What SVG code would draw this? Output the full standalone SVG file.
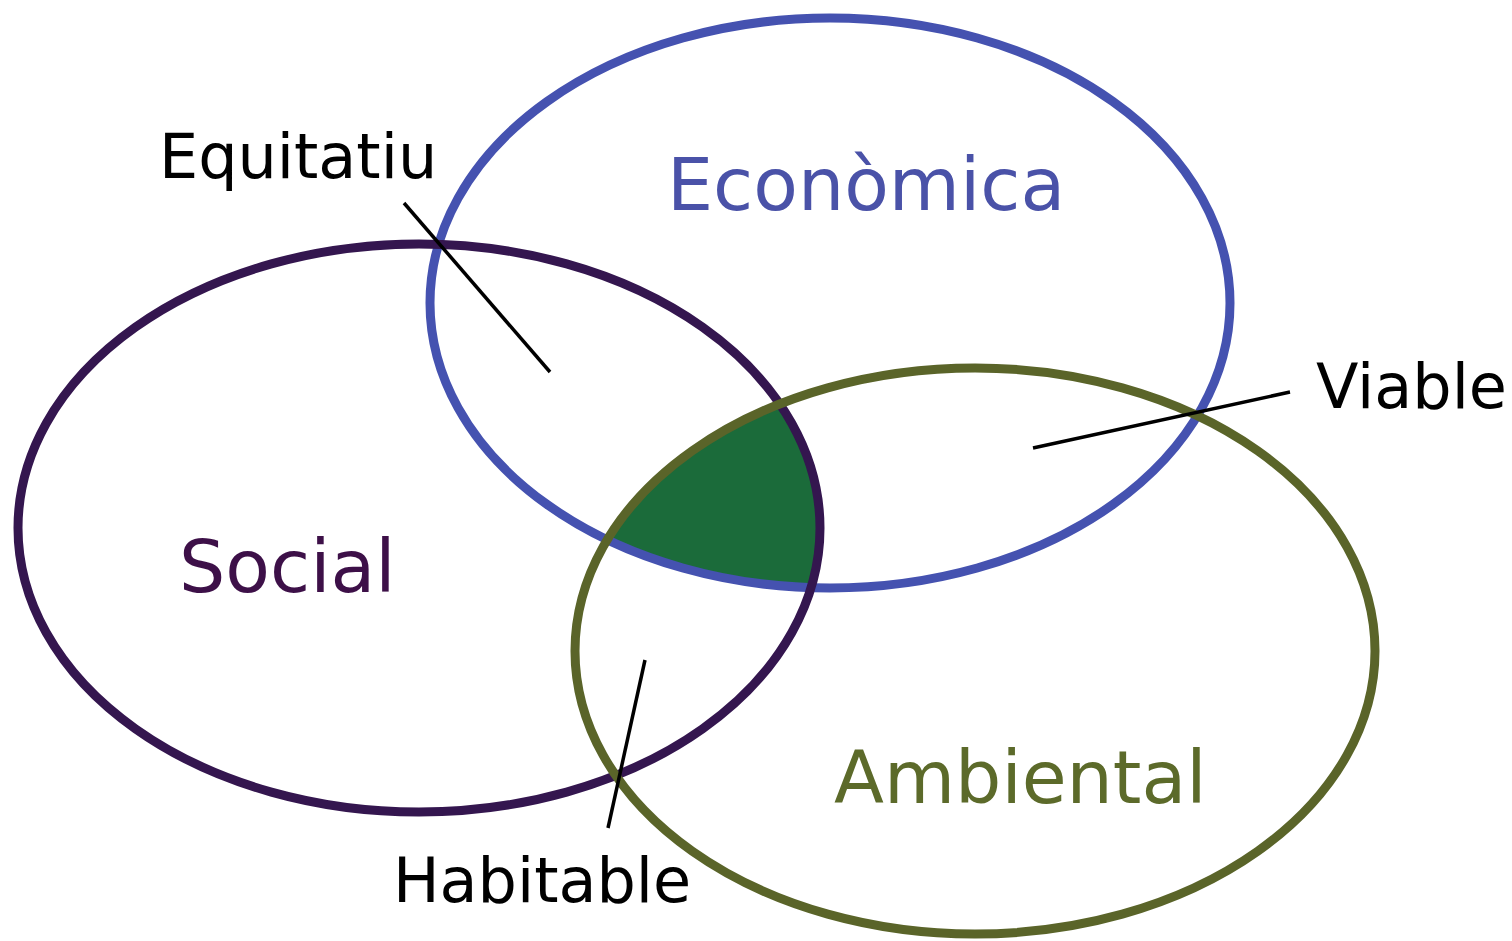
<svg xmlns="http://www.w3.org/2000/svg" width="1512" height="941" viewBox="0 0 1512 941">
<style>
.ring{fill:none;stroke-width:9}
.lbl{font-family:"DejaVu Sans","Liberation Sans",sans-serif;font-size:62px;fill:#000}
.big{font-family:"DejaVu Sans","Liberation Sans",sans-serif;font-size:73px}
.lead{stroke:#000;stroke-width:3.5;fill:none}
</style>
<defs>
<clipPath id="cEcon"><ellipse cx="830" cy="303" rx="400" ry="285"/></clipPath>
<clipPath id="cAmb"><ellipse cx="975" cy="651" rx="400" ry="283"/></clipPath>
</defs>
<rect width="1512" height="941" fill="#fff"/>
<g id="core" clip-path="url(#cEcon)"><g clip-path="url(#cAmb)"><ellipse cx="419" cy="528" rx="401" ry="284" fill="#1b6b3a"/></g></g>
<g id="economica">
<ellipse class="ring" cx="830" cy="303" rx="400" ry="285" stroke="#4552b0"/>
<text class="big" x="667" y="210" fill="#4a52a8">Econòmica</text>
</g>
<g id="social">
<ellipse class="ring" cx="419" cy="528" rx="401" ry="284" stroke="#34164f"/>
<text class="big" x="179" y="592" fill="#3d1048">Social</text>
</g>
<g id="ambiental">
<ellipse class="ring" cx="975" cy="651" rx="400" ry="283" stroke="#5a6429"/>
<text class="big" x="834" y="803" fill="#5c6a2a">Ambiental</text>
</g>
<g id="connectors">
<line class="lead" x1="404" y1="203" x2="550" y2="372"/>
<line class="lead" x1="1290" y1="392" x2="1033" y2="448"/>
<line class="lead" x1="645" y1="660" x2="608" y2="828"/>
</g>
<g id="equitatiu"><text class="lbl" x="159" y="178">Equitatiu</text></g>
<g id="viable"><text class="lbl" x="1316" y="408">Viable</text></g>
<g id="habitable"><text class="lbl" x="393" y="902">Habitable</text></g>
</svg>
